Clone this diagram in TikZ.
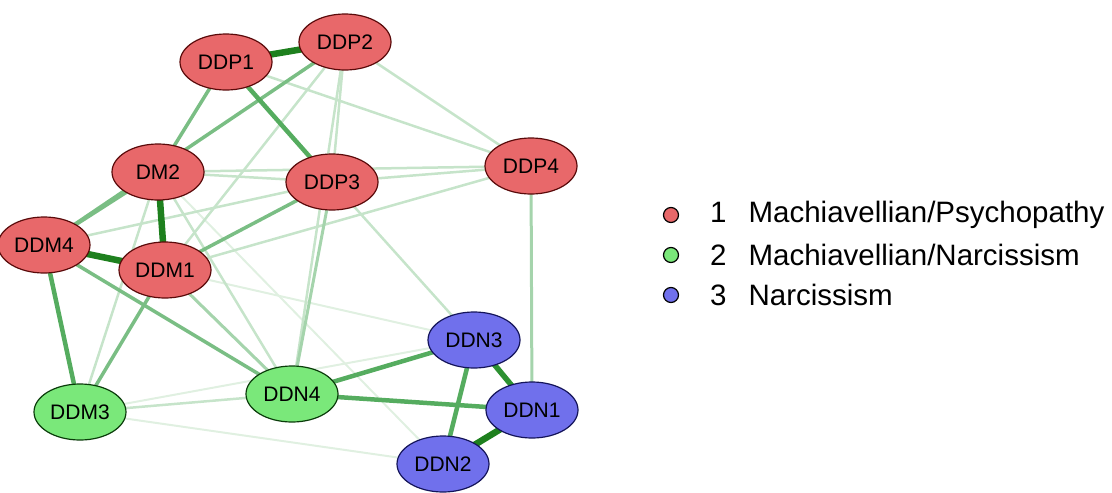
\documentclass[tikz,border=0pt]{standalone}
\usepackage{fontspec}
\setmainfont{Liberation Sans}
\usetikzlibrary{shapes.geometric,backgrounds}

\definecolor{redfill}{RGB}{232,104,106}
\definecolor{redline}{RGB}{90,10,10}
\definecolor{greenfill}{RGB}{122,232,122}
\definecolor{greenline}{RGB}{10,60,10}
\definecolor{bluefill}{RGB}{112,112,236}
\definecolor{blueline}{RGB}{20,20,90}
\definecolor{eA}{RGB}{30,128,30}
\definecolor{eB}{RGB}{45,145,50}
\definecolor{eC}{RGB}{85,172,95}
\definecolor{eD}{RGB}{122,190,132}
\definecolor{eE}{RGB}{165,212,172}
\definecolor{eF}{RGB}{198,228,202}
\definecolor{eG}{RGB}{224,240,225}

\tikzset{
  item/.style={ellipse, minimum width=92pt, minimum height=56pt, inner sep=0pt,
    line width=1.2pt, font=\fontsize{21}{23}\selectfont},
  mp/.style={item, fill=redfill, draw=redline},
  mn/.style={item, fill=greenfill, draw=greenline},
  nn/.style={item, fill=bluefill, draw=blueline},
  wA/.style={draw=eA, line width=6.5pt},
  wB/.style={draw=eB, line width=5.5pt},
  wC/.style={draw=eC, line width=4.5pt},
  wD/.style={draw=eD, line width=3.5pt},
  wE/.style={draw=eE, line width=3pt},
  wF/.style={draw=eF, line width=2.5pt},
  wG/.style={draw=eG, line width=2pt},
  dot/.style={circle, minimum size=15pt, inner sep=0pt, line width=1.2pt, draw=black},
  legtext/.style={anchor=west, font=\fontsize{29.5}{31}\selectfont, inner sep=0pt}
}

\begin{document}
\begin{tikzpicture}[x=1pt,y=-1pt]
\useasboundingbox (0,0) rectangle (1112,493);

% nodes of the network
\node[mp] (DDP1) at (226,62) {DDP1};
\node[mp] (DDP2) at (345,42) {DDP2};
\node[mp] (DM2)  at (158,172) {DM2};
\node[mp] (DDP3) at (332,182) {DDP3};
\node[mp] (DDP4) at (531,166) {DDP4};
\node[mp] (DDM4) at (44,245) {DDM4};
\node[mp] (DDM1) at (165,270) {DDM1};
\node[nn] (DDN3) at (474,340) {DDN3};
\node[nn] (DDN1) at (532,410) {DDN1};
\node[mn] (DDM3) at (80,412) {DDM3};
\node[mn] (DDN4) at (292,394) {DDN4};
\node[nn] (DDN2) at (443,464) {DDN2};

% weighted edges, drawn underneath the nodes
\begin{scope}[on background layer]
  % faintest
  \foreach \a/\b in {DDM3/DDN3, DDM3/DDN2, DDM1/DDN3, DM2/DDN2}
    \draw[wG] (\a.center) -- (\b.center);
  % light
  \foreach \a/\b in {DDP1/DDP4, DDP2/DDP4, DM2/DDP3, DM2/DDP4, DDP3/DDP4,
      DDM4/DDP3, DDM1/DDP4, DDP3/DDN3, DDP2/DDP3, DDP2/DDN4, DDM3/DDN4,
      DM2/DDM3, DM2/DDN4, DDP2/DDM1}
    \draw[wF] (\a.center) -- (\b.center);
  \foreach \a/\b in {DDP4/DDN1, DDP3/DDN4, DDM1/DDN4}
    \draw[wE] (\a.center) -- (\b.center);
  % medium
  \foreach \a/\b in {DDP1/DM2, DDP2/DDM4, DM2/DDM4, DDM1/DDP3, DDM1/DDM3, DDM4/DDN4}
    \draw[wD] (\a.center) -- (\b.center);
  \foreach \a/\b in {DDP1/DDP3, DDN3/DDN2, DDN4/DDN3, DDN4/DDN1, DDM4/DDM3}
    \draw[wC] (\a.center) -- (\b.center);
  % strongest
  \draw[wB] (DDN3.center) -- (DDN1.center);
  \foreach \a/\b in {DDP1/DDP2, DM2/DDM1, DDM4/DDM1, DDN1/DDN2}
    \draw[wA] (\a.center) -- (\b.center);
\end{scope}

% legend
\node[dot, fill=redfill]   (L1) at (671,215) {};
\node[dot, fill=greenfill] (L2) at (671,255) {};
\node[dot, fill=bluefill]  (L3) at (671,295) {};
\node[legtext] (T1) at (710,215) {1\hspace{22pt}Machiavellian/Psychopathy};
\node[legtext] (T2) at (710,255) {2\hspace{22pt}Machiavellian/Narcissism};
\node[legtext] (T3) at (710,295) {3\hspace{22pt}Narcissism};
\end{tikzpicture}
\end{document}
